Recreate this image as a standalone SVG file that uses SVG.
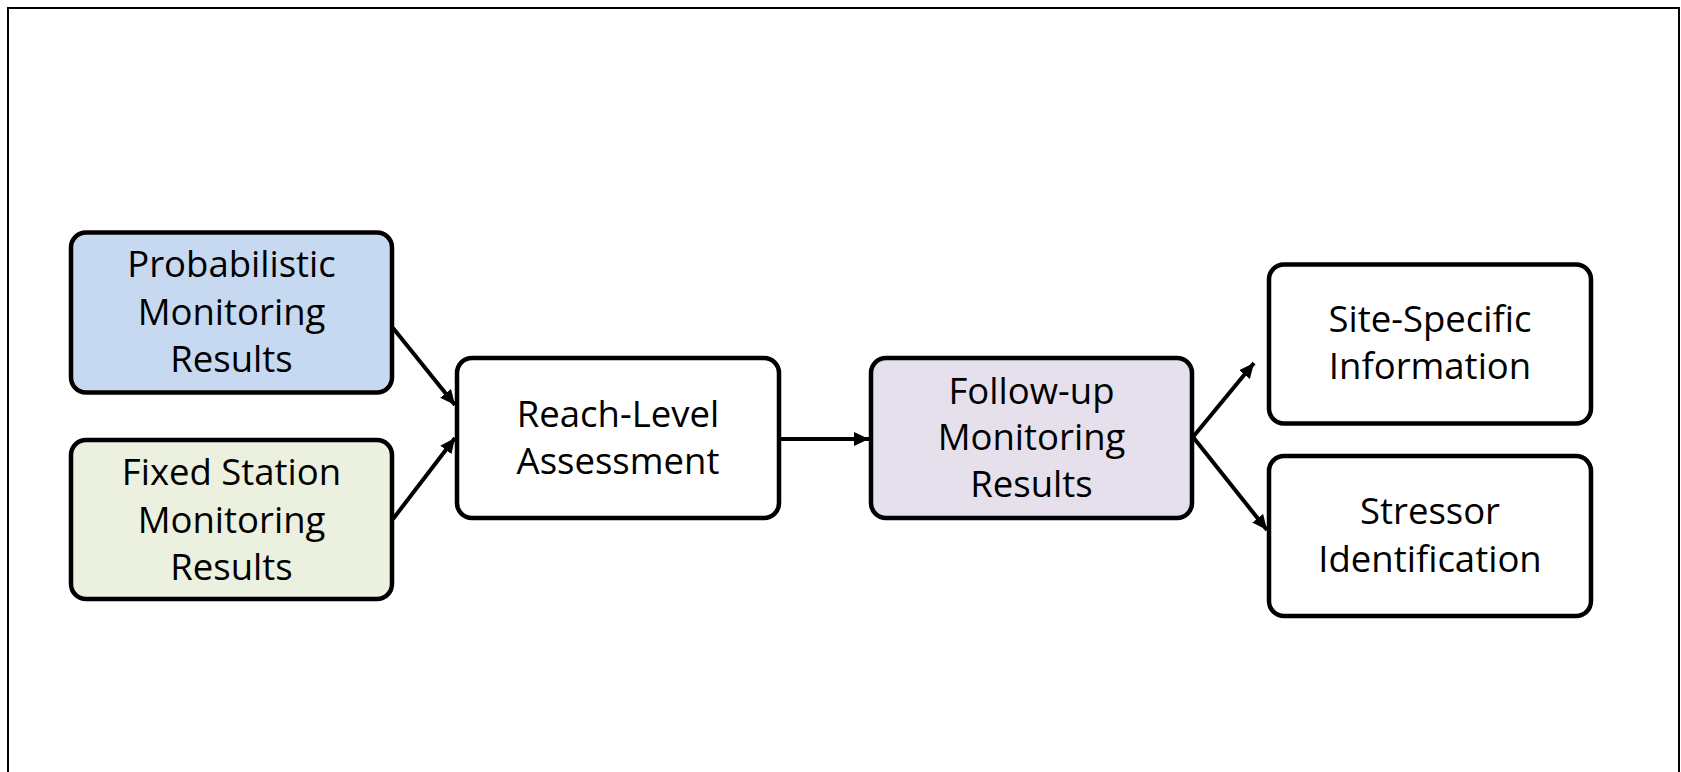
<svg xmlns="http://www.w3.org/2000/svg" width="1681" height="772" viewBox="0 0 1681 772">
<style>
.box{stroke:#000;stroke-width:4.5;}
.lbl{font-family:"Open Sans","Noto Sans",sans-serif;font-size:36.5px;fill:#000;text-anchor:middle;}
.conn{stroke:#000;stroke-width:4;fill:none;}
</style>
<defs>
<marker id="arr" markerUnits="userSpaceOnUse" markerWidth="16" markerHeight="14" refX="15" refY="7" orient="auto">
<path d="M0,0 L15,7 L0,14 z" fill="#000"/>
</marker>
</defs>
<rect x="0" y="0" width="1681" height="772" fill="#fff"/>
<rect x="8" y="8" width="1671" height="800" fill="none" stroke="#000" stroke-width="2"/>
<g id="connectors">
<line class="conn" x1="393" y1="328" x2="455" y2="405" marker-end="url(#arr)"/>
<line class="conn" x1="393" y1="519" x2="455" y2="438" marker-end="url(#arr)"/>
<line class="conn" x1="781" y1="439" x2="869" y2="439" marker-end="url(#arr)"/>
<line class="conn" x1="1193" y1="437" x2="1254" y2="363" marker-end="url(#arr)"/>
<line class="conn" x1="1193" y1="437" x2="1267" y2="530" marker-end="url(#arr)"/>
</g>
<g id="probabilistic">
<rect class="box" x="71" y="232.5" width="321" height="160" rx="15" fill="#C6D9F1"/>
<text class="lbl" x="231.5" y="277">Probabilistic</text>
<text class="lbl" x="231.5" y="324.5">Monitoring</text>
<text class="lbl" x="231.5" y="372">Results</text>
</g>
<g id="fixed-station">
<rect class="box" x="71" y="440" width="321" height="159" rx="15" fill="#EBF1DE"/>
<text class="lbl" x="231.5" y="485">Fixed Station</text>
<text class="lbl" x="231.5" y="533">Monitoring</text>
<text class="lbl" x="231.5" y="580">Results</text>
</g>
<g id="reach-level">
<rect class="box" x="457" y="358" width="322" height="160" rx="15" fill="#fff"/>
<text class="lbl" x="618" y="427">Reach-Level</text>
<text class="lbl" x="618" y="473.5">Assessment</text>
</g>
<g id="follow-up">
<rect class="box" x="871" y="358" width="321" height="160" rx="15" fill="#E5E0EC"/>
<text class="lbl" x="1031.5" y="403.5">Follow-up</text>
<text class="lbl" x="1031.5" y="450">Monitoring</text>
<text class="lbl" x="1031.5" y="496.5">Results</text>
</g>
<g id="site-specific">
<rect class="box" x="1269" y="264.5" width="322" height="159" rx="15" fill="#fff"/>
<text class="lbl" x="1430" y="331.5">Site-Specific</text>
<text class="lbl" x="1430" y="378.5">Information</text>
</g>
<g id="stressor">
<rect class="box" x="1269" y="456" width="322" height="160" rx="15" fill="#fff"/>
<text class="lbl" x="1430" y="524">Stressor</text>
<text class="lbl" x="1430" y="571.5">Identification</text>
</g>
</svg>
